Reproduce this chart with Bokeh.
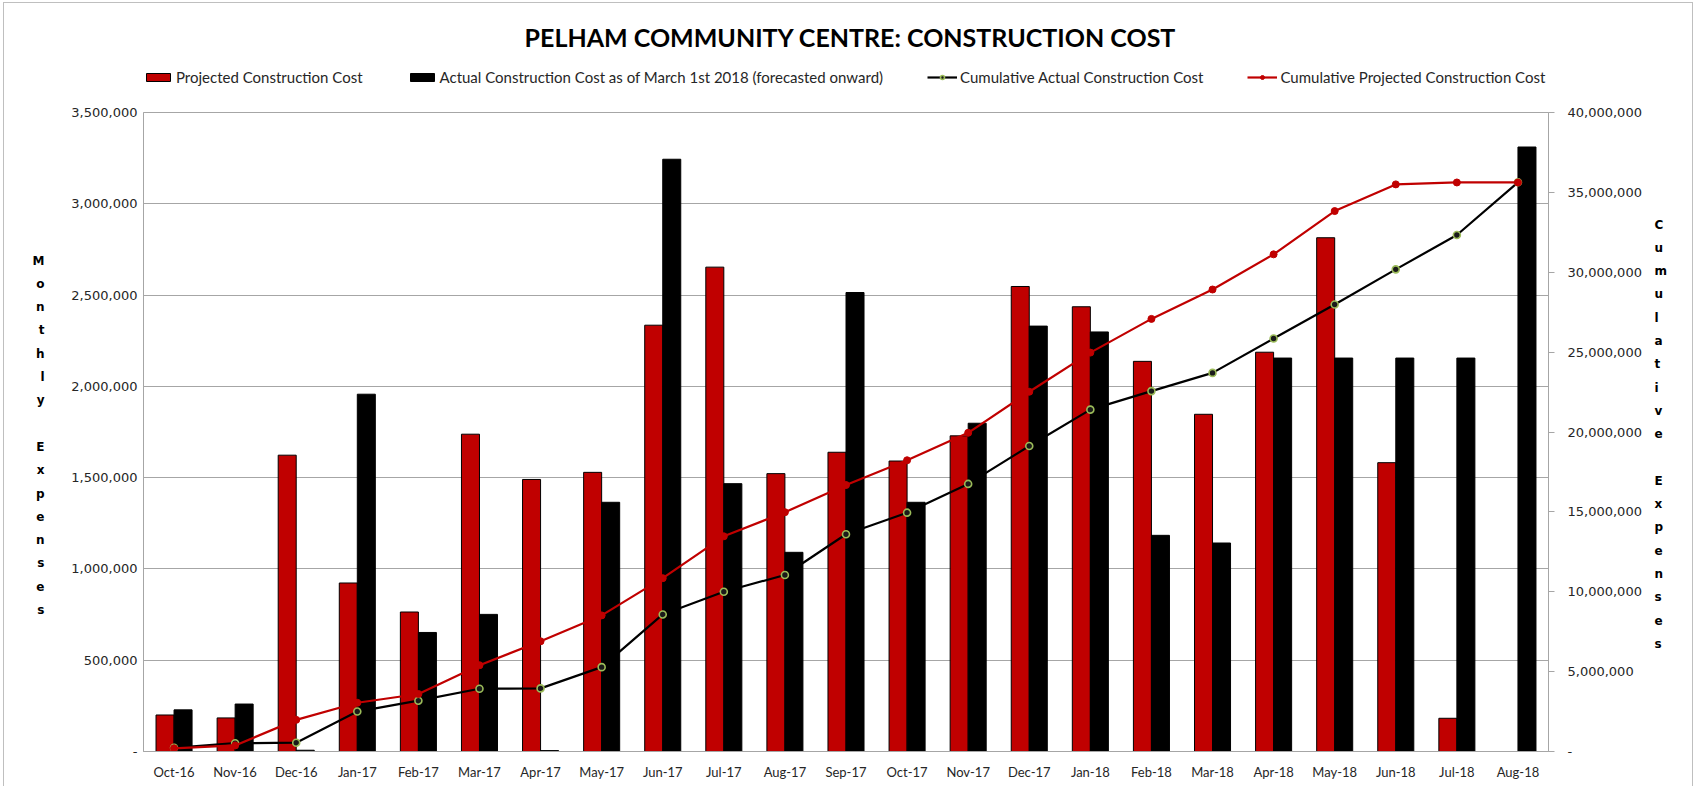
from bokeh.plotting import figure
from bokeh.layouts import column
from bokeh.models import (ColumnDataSource, FactorRange, Range1d, LinearAxis, FixedTicker,
                          NumeralTickFormatter, Legend, LegendItem, Label)
from bokeh.transform import dodge
from bokeh.embed import file_html
from bokeh.resources import INLINE

months = ["Oct-16", "Nov-16", "Dec-16", "Jan-17", "Feb-17", "Mar-17", "Apr-17", "May-17",
          "Jun-17", "Jul-17", "Aug-17", "Sep-17", "Oct-17", "Nov-17", "Dec-17", "Jan-18",
          "Feb-18", "Mar-18", "Apr-18", "May-18", "Jun-18", "Jul-18", "Aug-18"]

projected = [200000, 184000, 1623000, 923000, 764000, 1738000, 1490000, 1529000,
             2335000, 2653000, 1522000, 1639000, 1591000, 1729000, 2547000, 2436000,
             2137000, 1847000, 2187000, 2814000, 1582000, 182000, 0]

actual = [228000, 260000, 7000, 1957000, 652000, 751000, 5000, 1365000,
          3244000, 1467000, 1091000, 2514000, 1365000, 1798000, 2330000, 2298000,
          1184000, 1142000, 2155000, 2155000, 2155000, 2155000, 3311000]

cum_actual = [230000, 520000, 550000, 2500000, 3180000, 3930000, 3950000, 5280000,
              8580000, 10000000, 11050000, 13600000, 14950000, 16750000, 19120000, 21400000,
              22560000, 23700000, 25850000, 27980000, 30180000, 32330000, 35630000]

cum_projected = [200000, 380000, 1980000, 3050000, 3600000, 5400000, 6900000, 8520000,
                 10850000, 13470000, 14980000, 16680000, 18230000, 19950000, 22520000, 24970000,
                 27080000, 28920000, 31120000, 33830000, 35500000, 35620000, 35620000]

left_ticks = [0, 500000, 1000000, 1500000, 2000000, 2500000, 3000000, 3500000]
right_ticks = [0, 5000000, 10000000, 15000000, 20000000, 25000000, 30000000, 35000000, 40000000]

title_text = "PELHAM COMMUNITY CENTRE: CONSTRUCTION COST"
legend_labels = ["Projected Construction Cost",
                 "Actual Construction Cost as of March 1st 2018 (forecasted onward)",
                 "Cumulative Actual Construction Cost",
                 "Cumulative Projected Construction Cost"]
left_title = "Monthly Expenses"
right_title = "Cumulative Expenses"

RED = "#C00000"
GRID = "#A6A6A6"
TXT = "#262626"

# page-pixel layout (canvas starts at page x=4, y=3)
HEADER_H = 96
BORDER_L, BORDER_R = 139, 144
FRAME_TOP, FRAME_BOTTOM = 112, 751
LETTER_STEP = 23.3
LEFT_TITLE_TOP = 260
RIGHT_TITLE_TOP = 224

src = ColumnDataSource(dict(month=months, projected=projected, actual=actual,
                            cum_actual=cum_actual, cum_projected=cum_projected))
x_range = FactorRange(factors=months)

# ---------------- header: title + legend ----------------
header = figure(width=1688, height=HEADER_H, x_range=x_range, y_range=Range1d(0, HEADER_H),
                output_backend="svg", toolbar_location=None,
                min_border_left=BORDER_L, min_border_right=BORDER_R,
                min_border_top=0, min_border_bottom=0,
                x_axis_type=None, y_axis_type=None, outline_line_color=None)
header.grid.visible = False

header.add_layout(Label(x=707, y=HEADER_H - 33, x_units="screen", y_units="screen",
                        text=title_text, text_align="center", text_baseline="middle",
                        text_font="Lato", text_font_style="bold", text_font_size="25px",
                        text_color="#000000"))

# hidden copies of the series, used only for their legend swatches
h_proj = header.vbar(x=dodge("month", -0.1475, range=x_range), top="projected", width=0.295,
                     source=src, fill_color=RED, line_color="#000000", line_width=1, visible=False)
h_act = header.vbar(x=dodge("month", 0.1475, range=x_range), top="actual", width=0.295,
                    source=src, fill_color="#000000", line_color="#000000", line_width=1,
                    visible=False)
h_l_act = header.line(x="month", y="cum_actual", source=src, line_color="#000000",
                      line_width=2.2, visible=False)
h_m_act = header.scatter(x="month", y="cum_actual", source=src, marker="circle", size=7,
                         fill_color="#1A1A1A", line_color="#9BBB59", line_width=1.6,
                         visible=False)
h_l_proj = header.line(x="month", y="cum_projected", source=src, line_color=RED,
                       line_width=2.2, visible=False)
h_m_proj = header.scatter(x="month", y="cum_projected", source=src, marker="circle", size=7,
                          fill_color=RED, line_color=RED, visible=False)

leg_renderers = [[h_proj], [h_act], [h_l_act, h_m_act], [h_l_proj, h_m_proj]]
legend = Legend(items=[LegendItem(label=lab, renderers=rends)
                       for lab, rends in zip(legend_labels, leg_renderers)],
                location=(0, 13), orientation="horizontal", padding=0, margin=0,
                spacing=44, border_line_alpha=0, background_fill_alpha=0,
                inactive_fill_alpha=0,
                glyph_width=30, glyph_height=10, label_standoff=3,
                label_text_font="Lato", label_text_font_size="15px",
                label_text_color=TXT)
header.add_layout(legend)

# ---------------- main chart ----------------
p = figure(width=1688, height=687, x_range=x_range,
           y_range=Range1d(0, 3500000), output_backend="svg", toolbar_location=None,
           min_border_left=BORDER_L, min_border_right=BORDER_R, min_border_top=13,
           min_border_bottom=35)
p.extra_y_ranges = {"cum": Range1d(0, 40000000),
                    "letters": Range1d(FRAME_BOTTOM, FRAME_TOP)}

p.outline_line_color = GRID
p.xgrid.visible = False
p.ygrid.ticker = FixedTicker(ticks=left_ticks)
p.ygrid.grid_line_color = GRID
p.ygrid.grid_line_width = 1

# bars
p.vbar(x=dodge("month", -0.1475, range=x_range), top="projected", width=0.295,
       source=src, fill_color=RED, line_color="#000000", line_width=1)
p.vbar(x=dodge("month", 0.1475, range=x_range), top="actual", width=0.295,
       source=src, fill_color="#000000", line_color="#000000", line_width=1)

# cumulative lines
p.line(x="month", y="cum_actual", source=src, y_range_name="cum",
       line_color="#000000", line_width=2.2)
p.scatter(x="month", y="cum_actual", source=src, y_range_name="cum", marker="circle",
          size=7, fill_color="#1A1A1A", line_color="#9BBB59", line_width=1.6)
p.line(x="month", y="cum_projected", source=src, y_range_name="cum",
       line_color=RED, line_width=2.2)
p.scatter(x="month", y="cum_projected", source=src, y_range_name="cum", marker="circle",
          size=7, fill_color=RED, line_color=RED)

# left axis
ya = p.yaxis[0]
ya.ticker = FixedTicker(ticks=left_ticks)
ya.formatter = NumeralTickFormatter(format="0,0")
ya.major_label_overrides = {0: "-"}
ya.axis_line_color = GRID
ya.major_tick_line_color = None
ya.major_tick_out = 0
ya.minor_tick_line_color = None
ya.major_label_standoff = 6
ya.major_label_text_font = "DejaVu Sans"
ya.major_label_text_font_size = "13px"
ya.major_label_text_color = TXT

# right axis
ra = LinearAxis(y_range_name="cum", ticker=FixedTicker(ticks=right_ticks),
                formatter=NumeralTickFormatter(format="0,0"))
ra.major_label_overrides = {0: "-"}
ra.axis_line_color = GRID
ra.major_tick_line_color = GRID
ra.major_tick_in = 0
ra.major_tick_out = 6
ra.minor_tick_line_color = None
ra.major_label_standoff = 13
ra.major_label_text_font = "DejaVu Sans"
ra.major_label_text_font_size = "13px"
ra.major_label_text_color = TXT
p.add_layout(ra, "right")


# stacked axis titles, one upright letter per line (drawn as labels of a bare axis)
def letter_axis(text, top, standoff):
    ticks, labels = [], {}
    for i, ch in enumerate(text):
        if ch != " ":
            pos = round(top + i * LETTER_STEP, 1)
            ticks.append(pos)
            labels[pos] = ch
    ax = LinearAxis(y_range_name="letters", ticker=FixedTicker(ticks=ticks),
                    major_label_overrides=labels)
    ax.axis_line_color = None
    ax.major_tick_line_color = None
    ax.minor_tick_line_color = None
    ax.major_tick_out = 0
    ax.major_tick_in = 0
    ax.major_label_standoff = standoff
    ax.major_label_text_font = "DejaVu Sans"
    ax.major_label_text_font_style = "bold"
    ax.major_label_text_font_size = "12px"
    ax.major_label_text_color = "#000000"
    return ax


p.add_layout(letter_axis(left_title, LEFT_TITLE_TOP, 24), "left")
p.add_layout(letter_axis(right_title, RIGHT_TITLE_TOP, 10), "right")

# x axis
xa = p.xaxis[0]
xa.axis_line_color = GRID
xa.major_tick_line_color = None
xa.major_tick_out = 0
xa.major_label_standoff = 12
xa.major_label_text_font = "Lato"
xa.major_label_text_font_size = "13px"
xa.major_label_text_color = TXT

layout = column(header, p, spacing=0)
layout.styles = {"border-top": "1px solid #BFBFBF", "border-left": "1px solid #BFBFBF",
                 "border-right": "1px solid #BFBFBF", "margin": "2px 0px 0px 3px"}

open("out.html", "w").write(file_html(layout, INLINE))
